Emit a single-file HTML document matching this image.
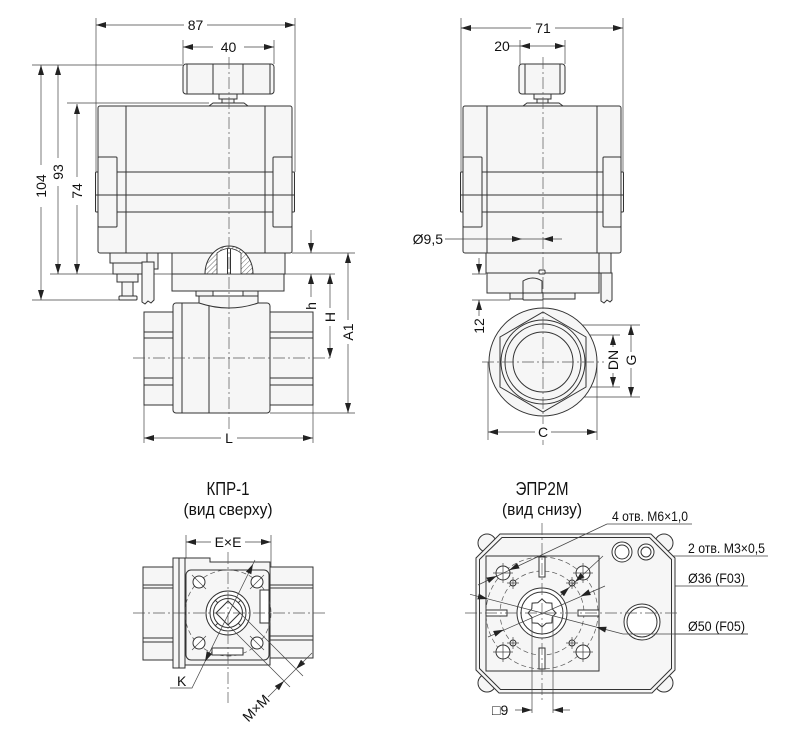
<!DOCTYPE html>
<html><head><meta charset="utf-8">
<style>
html,body{margin:0;padding:0;background:#fff;}
svg{display:block}
.o{fill:#f6f6f6;stroke:#333;stroke-width:1}
.wf{fill:#fff;stroke:#333;stroke-width:1}
.n{fill:none;stroke:#333;stroke-width:1}
.d{fill:none;stroke:#444;stroke-width:0.7}
.c{fill:none;stroke:#555;stroke-width:0.7;stroke-dasharray:12 3 2 3}
.ds{fill:none;stroke:#555;stroke-width:0.7;stroke-dasharray:5 3}
.a{fill:#222;stroke:none}
.t{font-family:"Liberation Sans Narrow","Liberation Sans",sans-serif;font-size:14px;fill:#111}
.tt{font-family:"Liberation Sans Narrow","Liberation Sans",sans-serif;fill:#111}
.bg{fill:#fff;stroke:none}
</style></head><body>
<svg width="800" height="747" viewBox="0 0 800 747" xmlns="http://www.w3.org/2000/svg">
<defs>
<pattern id="h" width="3.5" height="3.5" patternUnits="userSpaceOnUse" patternTransform="rotate(45)">
<line x1="0" y1="0" x2="0" y2="3.5" stroke="#444" stroke-width="0.8"/>
</pattern>
</defs>

<!-- ================= TOP-LEFT VIEW ================= -->
<path class="d" d="M96,18V172 M295,18V172 M183,40V64 M274,40V64 M32,65H183 M67,103H209 M32,300H120 M50,274H335 M292,253H355 M270,413H355 M144,405V443 M313,405V443"/>

<rect class="o" x="183" y="64" width="91" height="30" rx="3"/>
<path class="n" d="M187,64.5V93.5 M213,64V94 M243,64V94 M270,64.5V93.5"/>
<rect class="o" x="219" y="94" width="18" height="5"/>
<rect class="o" x="222" y="99" width="12" height="4"/>
<path class="o" d="M209,106L213,103H244L248,106Z"/>

<rect class="o" x="98" y="106" width="194" height="147" rx="2"/>
<path class="n" d="M126,106V253 M265,106V253 M117,172H273 M117,212H273"/>
<rect class="o" x="95.5" y="172" width="3" height="40" rx="1"/>
<rect class="o" x="291.5" y="172" width="3" height="40" rx="1"/>
<rect class="o" x="98" y="157" width="19" height="70" rx="1"/>
<rect class="o" x="273" y="157" width="19" height="70" rx="1"/>
<path class="n" d="M96,195H295"/>

<rect class="o" x="110" y="253" width="37" height="10"/>
<rect class="o" x="113" y="263" width="30" height="11"/>
<rect class="o" x="117" y="274" width="21" height="8"/>
<rect class="o" x="122" y="282" width="11" height="14"/>
<rect class="o" x="119" y="296" width="18" height="4" rx="1"/>
<rect class="o" x="147" y="253" width="11" height="16"/>
<path class="o" d="M142,262V302L145,304L148,301L151,303L154,300V262Z"/>

<rect class="o" x="172" y="253" width="113" height="21"/>
<rect class="o" x="172" y="274" width="112" height="17"/>
<rect class="o" x="196" y="291" width="17" height="5"/>
<rect class="o" x="243" y="291" width="15" height="5"/>

<path d="M205,274A24,28 0 0 1 253,274Z" fill="#fff" stroke="none"/>
<path d="M205,274A24,28 0 0 1 253,274Z" fill="url(#h)" stroke="#333" stroke-width="1"/>
<path d="M217,274V253Q229,244 241,253V274Z" fill="#fff" stroke="#333" stroke-width="0.8"/>
<path class="n" d="M227.5,249V274 M230.5,249V274" stroke-width="0.7"/>

<rect class="o" x="144" y="312" width="29" height="93"/>
<rect class="o" x="270" y="312" width="43" height="93"/>
<path class="n" d="M144,332H173 M144,338H173 M144,378H173 M144,385H173 M270,332H313 M270,338H313 M270,378H313 M270,385H313"/>
<rect class="o" x="173" y="303" width="97" height="110" rx="3"/>
<path class="n" d="M182,303V413 M209,303V413"/>
<path class="o" d="M199,296H258V303Q229,313 199,303Z"/>

<path class="c" d="M229,57V445 M133,358H333"/>

<path class="d" d="M96,25H295 M183,47H274 M41,65V300 M58,65V274 M77,104V274 M311,230V253 M311,274V297 M330,274V358 M348,253V413 M144,438H313"/>
<polygon class="a" points="96,25 106,22 106,28"/>
<polygon class="a" points="295,25 285,22 285,28"/>
<polygon class="a" points="183,47 193,44 193,50"/>
<polygon class="a" points="274,47 264,44 264,50"/>
<polygon class="a" points="41,65 38,75 44,75"/>
<polygon class="a" points="41,300 38,290 44,290"/>
<polygon class="a" points="58,65 55,75 61,75"/>
<polygon class="a" points="58,274 55,264 61,264"/>
<polygon class="a" points="77,104 74,114 80,114"/>
<polygon class="a" points="77,274 74,264 80,264"/>
<polygon class="a" points="311,253 308,243 314,243"/>
<polygon class="a" points="311,274 308,284 314,284"/>
<polygon class="a" points="330,274 327,284 333,284"/>
<polygon class="a" points="330,358 327,348 333,348"/>
<polygon class="a" points="348,253 345,263 351,263"/>
<polygon class="a" points="348,413 345,403 351,403"/>
<polygon class="a" points="144,438 154,435 154,441"/>
<polygon class="a" points="313,438 303,435 303,441"/>

<rect class="bg" x="184" y="17" width="23" height="16"/>
<text class="t" x="195.5" y="25" text-anchor="middle" dominant-baseline="central">87</text>
<rect class="bg" x="213" y="39" width="31" height="16"/>
<text class="t" x="228.5" y="47" text-anchor="middle" dominant-baseline="central">40</text>
<rect class="bg" x="33" y="165" width="16" height="42"/>
<text class="t" x="41" y="186" text-anchor="middle" dominant-baseline="central" transform="rotate(-90 41 186)">104</text>
<rect class="bg" x="50" y="158" width="16" height="28"/>
<text class="t" x="58" y="172" text-anchor="middle" dominant-baseline="central" transform="rotate(-90 58 172)">93</text>
<rect class="bg" x="69" y="177" width="16" height="28"/>
<text class="t" x="77" y="191" text-anchor="middle" dominant-baseline="central" transform="rotate(-90 77 191)">74</text>
<text class="t" x="311" y="306" text-anchor="middle" dominant-baseline="central" transform="rotate(-90 311 306)">h</text>
<rect class="bg" x="322" y="308" width="16" height="18"/>
<text class="t" x="330" y="317" text-anchor="middle" dominant-baseline="central" transform="rotate(-90 330 317)">H</text>
<rect class="bg" x="340" y="320" width="16" height="24"/>
<text class="t" x="348" y="332" text-anchor="middle" dominant-baseline="central" transform="rotate(-90 348 332)">A1</text>
<rect class="bg" x="221" y="430" width="16" height="16"/>
<text class="t" x="229" y="438" text-anchor="middle" dominant-baseline="central">L</text>

<!-- ================= TOP-RIGHT VIEW ================= -->
<path class="d" d="M461,18V172 M623,18V172 M520,40V64 M565,40V64 M472,274H486 M472,300H510 M547,325H640 M585,335H620 M585,387H620 M547,397H640 M488,362V440 M597,362V440 M522,233V280"/>

<rect class="o" x="519" y="64" width="46" height="30" rx="3"/>
<path class="n" d="M525,64.5V93.5 M560,64.5V93.5"/>
<rect class="o" x="534" y="94" width="17" height="5"/>
<rect class="o" x="537" y="99" width="11" height="4"/>
<path class="o" d="M523,106L527,103H559L563,106Z"/>

<rect class="o" x="463" y="106" width="158" height="147" rx="2"/>
<path class="n" d="M487,106V253 M597,106V253 M482,172H603 M482,212H603"/>
<rect class="o" x="460.5" y="172" width="3" height="40" rx="1"/>
<rect class="o" x="620.5" y="172" width="3" height="40" rx="1"/>
<rect class="o" x="463" y="157" width="19" height="70" rx="1"/>
<rect class="o" x="603" y="157" width="18" height="70" rx="1"/>
<path class="n" d="M461,195H623"/>

<rect class="o" x="599" y="253" width="12" height="20"/>
<path class="o" d="M601,273V301L604,303L607,300L610,302L612,300V273Z"/>
<rect class="o" x="486" y="253" width="113" height="20"/>
<rect class="o" x="487" y="273" width="112" height="20"/>
<rect class="o" x="510" y="293" width="65" height="6"/>
<path class="o" d="M523,293V281Q533,275 542,281V293Z"/>
<rect class="o" x="523" y="293" width="20" height="7" rx="1"/>
<rect class="o" x="539" y="270" width="6" height="4" rx="1"/>

<circle class="o" cx="543" cy="362" r="54"/>
<polygon class="o" points="543,312 586,337 586,387 543,412 500,387 500,337"/>
<circle class="n" cx="543" cy="362" r="42"/>
<circle class="n" cx="543" cy="362" r="38"/>
<circle class="n" cx="543" cy="362" r="30"/>

<path class="c" d="M543,57V445 M482,362H604"/>

<path class="d" d="M461,28H623 M509,46H565 M445,239H562 M479,258V274 M479,300V316 M613,335V387 M631,325V397 M488,432H597"/>
<polygon class="a" points="461,28 471,25 471,31"/>
<polygon class="a" points="623,28 613,25 613,31"/>
<polygon class="a" points="520,46 530,43 530,49"/>
<polygon class="a" points="565,46 555,43 555,49"/>
<polygon class="a" points="522,239 512,236 512,242"/>
<polygon class="a" points="543,239 553,236 553,242"/>
<polygon class="a" points="479,274 476,264 482,264"/>
<polygon class="a" points="479,300 476,310 482,310"/>
<polygon class="a" points="613,335 610,345 616,345"/>
<polygon class="a" points="613,387 610,377 616,377"/>
<polygon class="a" points="631,325 628,335 634,335"/>
<polygon class="a" points="631,397 628,387 634,387"/>
<polygon class="a" points="488,432 498,429 498,435"/>
<polygon class="a" points="597,432 587,429 587,435"/>

<rect class="bg" x="531" y="20" width="24" height="16"/>
<text class="t" x="543" y="28" text-anchor="middle" dominant-baseline="central">71</text>
<text class="t" x="502" y="46" text-anchor="middle" dominant-baseline="central">20</text>
<text class="t" x="443" y="239" text-anchor="end" dominant-baseline="central">Ø9,5</text>
<text class="t" x="479" y="326" text-anchor="middle" dominant-baseline="central" transform="rotate(-90 479 326)">12</text>
<rect class="bg" x="605" y="347" width="16" height="26"/>
<text class="t" x="613" y="360" text-anchor="middle" dominant-baseline="central" transform="rotate(-90 613 360)">DN</text>
<rect class="bg" x="623" y="352" width="16" height="16"/>
<text class="t" x="631" y="360" text-anchor="middle" dominant-baseline="central" transform="rotate(-90 631 360)">G</text>
<rect class="bg" x="535" y="424" width="16" height="16"/>
<text class="t" x="543" y="432" text-anchor="middle" dominant-baseline="central">C</text>

<!-- ================= BOTTOM-LEFT VIEW (КПР-1) ================= -->
<text class="tt" x="228" y="495" text-anchor="middle" font-size="18" textLength="43" lengthAdjust="spacingAndGlyphs">КПР-1</text>
<text class="tt" x="228" y="515" text-anchor="middle" font-size="17" textLength="89" lengthAdjust="spacingAndGlyphs">(вид сверху)</text>

<path class="d" d="M186,535V570 M271,535V567"/>
<rect class="o" x="143" y="567" width="30" height="93"/>
<rect class="o" x="270" y="567" width="43" height="91"/>
<path class="n" d="M143,585H173 M143,588H173 M143,638H173 M143,642H173 M270,585H313 M270,588H313 M270,636H313 M270,640H313"/>
<rect class="o" x="173" y="558" width="12" height="110"/>
<path class="n" d="M179,558V668"/>
<path class="o" d="M185,558H210V562H270V665H185Z"/>
<rect class="o" x="186" y="570" width="83" height="90" rx="5"/>
<circle class="ds" cx="228" cy="613" r="43"/>
<rect class="wf" x="260" y="590" width="9" height="33"/>
<rect class="wf" x="212" y="648" width="31" height="7"/>
<circle class="wf" cx="199" cy="582" r="6"/>
<circle class="wf" cx="257" cy="582" r="6"/>
<circle class="wf" cx="199" cy="643" r="6"/>
<circle class="wf" cx="257" cy="643" r="6"/>
<path class="d" d="M192,575L206,589 M264,575L250,589 M192,650L206,636 M264,650L250,636"/>
<circle class="wf" cx="228" cy="613" r="22"/>
<circle class="n" cx="228" cy="613" r="18"/>
<circle class="n" cx="228" cy="613" r="14.5"/>
<path class="n" d="M238.3,602.7L240.7,600.3 M217.7,602.7L215.3,600.3 M217.7,623.3L215.3,625.7 M238.3,623.3L240.7,625.7"/>
<polygon class="n" points="228,601 240,613 228,625 216,613"/>

<path class="c" d="M133,613H325 M228,552V703"/>

<path class="d" d="M186,542H271"/>
<polygon class="a" points="186,542 196,539 196,545"/>
<polygon class="a" points="271,542 261,539 261,545"/>
<rect class="bg" x="211" y="534" width="34" height="16"/>
<text class="t" x="228" y="542" text-anchor="middle" dominant-baseline="central">E×E</text>

<path class="d" d="M170,688H192L255,560"/>
<polygon class="a" points="253,564 251.3,574.3 245.9,571.7"/>
<polygon class="a" points="205,661.6 212.1,653.9 206.7,651.3"/>
<text class="t" x="177" y="686">K</text>

<path class="d" d="M228,625L290,687 M240,613L303,676 M268,697L312,653"/>
<polygon class="a" points="284,681 279,690.2 274.8,686"/>
<polygon class="a" points="296,669 305.2,664 301,659.8"/>
<text class="t" x="256" y="708" text-anchor="middle" dominant-baseline="central" transform="rotate(-45 256 708)">M×M</text>

<!-- ================= BOTTOM-RIGHT VIEW (ЭПР2М) ================= -->
<text class="tt" x="542" y="495" text-anchor="middle" font-size="18" textLength="53" lengthAdjust="spacingAndGlyphs">ЭПР2М</text>
<text class="tt" x="542" y="515" text-anchor="middle" font-size="17" textLength="80" lengthAdjust="spacingAndGlyphs">(вид снизу)</text>

<path class="d" d="M607,524H692 M603,556H768 M605,586H748 M623,634H748"/>

<circle class="o" cx="487" cy="543" r="9"/>
<circle class="o" cx="664" cy="543" r="9"/>
<circle class="o" cx="487" cy="683" r="9"/>
<circle class="o" cx="664" cy="683" r="9"/>
<path class="o" d="M500,534H651L675,558V670L652,693H499L476,670V558Z"/>
<path class="n" d="M502,537.5H649.5L671.5,559.5V668.5L650.5,689.5H500.5L479.5,668.5V559.5Z" stroke-width="0.8"/>
<rect class="o" x="486" y="556" width="113" height="115"/>

<circle class="ds" cx="542" cy="613" r="56"/>
<circle class="ds" cx="542" cy="613" r="42"/>

<rect class="wf" x="539" y="557" width="6" height="20"/>
<rect class="wf" x="539" y="648" width="6" height="21"/>
<rect class="wf" x="486" y="610" width="21" height="6"/>
<rect class="wf" x="578" y="610" width="21" height="6"/>

<circle class="wf" cx="503" cy="573" r="7"/>
<circle class="wf" cx="583" cy="573" r="7"/>
<circle class="wf" cx="503" cy="652" r="7"/>
<circle class="wf" cx="583" cy="652" r="7"/>
<circle class="wf" cx="513" cy="583" r="3"/>
<circle class="wf" cx="572" cy="583" r="3"/>
<circle class="wf" cx="513" cy="643" r="3"/>
<circle class="wf" cx="572" cy="643" r="3"/>
<path class="d" d="M503,563V583 M493,573H513 M583,563V583 M573,573H593 M503,642V662 M493,652H513 M583,642V662 M573,652H593 M513,577V589 M507,583H519 M572,577V589 M566,583H578 M513,637V649 M507,643H519 M572,637V649 M566,643H578"/>

<circle class="wf" cx="542" cy="613" r="25"/>
<circle class="n" cx="542" cy="613" r="21"/>
<polygon class="n" points="556,613 552.2,617.2 551.9,622.9 546.2,623.2 542,627 537.8,623.2 532.1,622.9 531.8,617.2 528,613 531.8,608.8 532.1,603.1 537.8,602.8 542,599 546.2,602.8 551.9,603.1 552.2,608.8"/>

<circle class="wf" cx="622" cy="552" r="10"/>
<circle class="n" cx="622" cy="552" r="7"/>
<circle class="wf" cx="646" cy="552" r="8"/>
<circle class="n" cx="646" cy="552" r="5"/>
<circle class="wf" cx="642" cy="622" r="18"/>
<circle class="n" cx="642" cy="622" r="15"/>

<path class="c" d="M465,613H677 M542,523V703"/>

<path class="d" d="M607,524L478,585 M603,556L560.5,595.5 M605,586L488,637 M623,634L470,594.3 M623,634H748"/>
<polygon class="a" points="509.3,570 517,563 519.6,568.4"/>
<polygon class="a" points="496.7,576 486.4,577.6 489,583"/>
<polygon class="a" points="575.2,581.9 580.5,572.9 584.5,577.3"/>
<polygon class="a" points="569.3,587.3 560,591.9 564,596.3"/>
<polygon class="a" points="580.5,596.2 588.5,589.4 590.9,595"/>
<polygon class="a" points="503.5,629.8 493.1,631 495.5,636.6"/>
<polygon class="a" points="596.2,627.1 606.7,626.7 605.1,632.5"/>
<polygon class="a" points="487.8,599 478.9,593.6 477.3,599.4"/>

<text class="t" x="612" y="521" textLength="76" lengthAdjust="spacingAndGlyphs">4 отв. M6×1,0</text>
<text class="t" x="688" y="553" textLength="77" lengthAdjust="spacingAndGlyphs">2 отв. M3×0,5</text>
<text class="t" x="688" y="583" textLength="57" lengthAdjust="spacingAndGlyphs">Ø36 (F03)</text>
<text class="t" x="688" y="631" textLength="57" lengthAdjust="spacingAndGlyphs">Ø50 (F05)</text>

<path class="d" d="M532,617V713 M553,617V713 M515,710H532 M553,710H570"/>
<polygon class="a" points="532,710 522,707 522,713"/>
<polygon class="a" points="553,710 563,707 563,713"/>
<text class="t" x="492" y="710" dominant-baseline="central">□9</text>
</svg>
</body></html>
